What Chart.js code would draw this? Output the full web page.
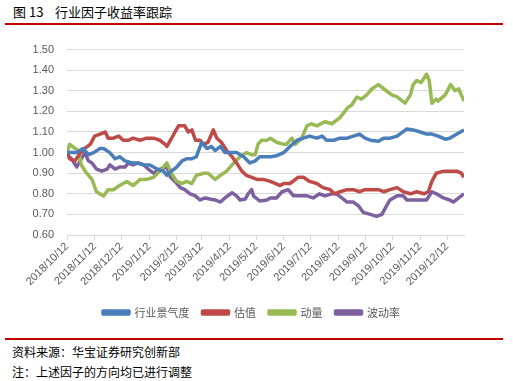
<!DOCTYPE html>
<html><head><meta charset="utf-8">
<script src="https://cdn.jsdelivr.net/npm/chart.js@4"></script>
<style>
body{margin:0;width:513px;height:381px;background:#fff;position:relative;overflow:hidden;font-family:"Noto Sans CJK SC",sans-serif;}
#title{position:absolute;left:13px;top:4px;font-size:13px;line-height:16px;color:#000;white-space:pre;}
.rule{position:absolute;left:5px;width:498px;height:2px;background:#c00000;}
#wrap{position:absolute;left:0;top:30px;}
.note{position:absolute;left:12px;font-size:12px;line-height:14px;color:#000;}
</style></head>
<body>
<div id="title">图 13    行业因子收益率跟踪</div>
<div class="rule" style="top:23px"></div>
<div id="wrap"><canvas id="c" width="513" height="298"></canvas></div>
<div class="rule" style="top:338px"></div>
<div class="note" style="top:345px">资料来源：华宝证券研究创新部</div>
<div class="note" style="top:365px">注：上述因子的方向均已进行调整</div>
<script>
// x = days since 2018/10/12
const tickDays = [0,31,61,92,123,151,182,212,243,273,304,335,365,396,426];
const tickLabels = ['2018/10/12','2018/11/12','2018/12/12','2019/1/12','2019/2/12','2019/3/12','2019/4/12','2019/5/12','2019/6/12','2019/7/12','2019/8/12','2019/9/12','2019/10/12','2019/11/12','2019/12/12'];
const lastDay = 445;

const industryDays = [0,5,11,18,24,30,37,41,48,54,59,65,73,78,86,93,101,108,112,117,123,129,134,140,145,151,157,162,166,172,177,183,190,198,205,211,216,220,228,235,243,250,258,265,272,280,286,291,299,306,314,321,328,334,340,349,355,362,370,381,388,396,403,409,416,424,429,437,445];
const industryVals = [1.00,1.00,1.00,1.02,0.99,1.00,1.02,1.02,1.00,0.97,0.98,0.96,0.95,0.95,0.94,0.94,0.92,0.91,0.89,0.91,0.93,0.96,0.97,0.97,0.98,1.05,1.02,1.03,1.01,1.03,1.00,1.00,1.00,0.98,0.95,0.96,0.98,0.98,0.98,0.985,1.00,1.03,1.06,1.07,1.08,1.07,1.08,1.06,1.06,1.07,1.07,1.08,1.09,1.07,1.06,1.055,1.07,1.07,1.08,1.115,1.11,1.10,1.09,1.09,1.08,1.065,1.07,1.09,1.11];

const valuationDays = [0,3,9,15,20,26,31,37,43,46,52,58,63,69,74,82,89,97,104,110,112,116,121,125,132,136,140,144,149,153,158,164,168,173,179,185,190,196,201,207,213,220,228,239,243,250,259,265,272,280,287,295,300,306,314,321,328,334,342,349,355,362,370,377,385,392,400,405,409,414,422,429,437,442,445];
const valuationVals = [1.00,0.97,0.96,1.00,1.02,1.04,1.08,1.09,1.10,1.07,1.07,1.08,1.06,1.06,1.07,1.06,1.07,1.07,1.06,1.04,1.03,1.06,1.10,1.13,1.13,1.10,1.11,1.06,1.06,1.04,1.05,1.11,1.07,1.05,1.01,0.98,0.95,0.91,0.89,0.88,0.87,0.87,0.86,0.84,0.85,0.85,0.88,0.88,0.86,0.85,0.83,0.82,0.80,0.81,0.82,0.82,0.81,0.82,0.82,0.82,0.81,0.82,0.83,0.81,0.80,0.81,0.80,0.81,0.86,0.90,0.91,0.91,0.91,0.90,0.88];

const momentumDays = [0,3,9,13,16,22,28,33,41,46,52,59,67,74,82,89,97,104,112,117,123,129,134,140,145,153,158,166,172,179,187,194,201,207,211,214,218,224,228,235,243,246,252,256,263,269,274,280,289,297,306,315,319,325,330,336,342,349,355,364,370,379,385,388,392,397,403,406,409,414,416,424,430,435,439,445];
const momentumVals = [1.00,1.04,1.02,1.01,0.94,0.90,0.87,0.81,0.79,0.82,0.82,0.84,0.86,0.84,0.87,0.87,0.88,0.91,0.95,0.90,0.86,0.85,0.86,0.85,0.89,0.90,0.90,0.87,0.89,0.91,0.95,0.98,1.00,0.99,0.99,1.04,1.06,1.06,1.07,1.05,1.04,1.04,1.07,1.04,1.07,1.13,1.14,1.13,1.15,1.14,1.17,1.22,1.23,1.27,1.26,1.28,1.31,1.33,1.31,1.28,1.27,1.24,1.28,1.33,1.35,1.34,1.38,1.35,1.24,1.26,1.25,1.28,1.33,1.30,1.31,1.25];

const volatilityDays = [0,5,11,16,20,24,28,33,39,45,48,54,59,65,69,74,80,86,91,97,104,112,116,121,127,132,138,144,149,155,160,166,172,177,185,190,194,200,203,207,209,216,224,228,235,241,248,254,261,269,276,283,289,297,302,308,314,321,327,332,340,347,353,358,362,370,377,381,388,396,403,409,414,422,429,433,439,445];
const volatilityVals = [0.99,0.97,0.93,0.97,1.00,0.96,0.95,0.92,0.91,0.92,0.94,0.92,0.93,0.93,0.95,0.94,0.95,0.94,0.92,0.90,0.92,0.93,0.88,0.86,0.83,0.82,0.80,0.79,0.77,0.78,0.775,0.77,0.76,0.78,0.805,0.79,0.77,0.775,0.80,0.82,0.79,0.765,0.77,0.78,0.78,0.81,0.82,0.79,0.79,0.79,0.78,0.80,0.79,0.80,0.80,0.78,0.76,0.76,0.74,0.71,0.70,0.69,0.70,0.74,0.77,0.79,0.79,0.77,0.77,0.77,0.77,0.81,0.80,0.78,0.77,0.76,0.78,0.80];

function pts(d, v){ return d.map((x,i)=>({x:x, y:v[i]})); }
function ds(label, d, v, color){
  return {label, data: pts(d,v), borderColor: color, backgroundColor: color, borderWidth: 3.5, pointRadius: 0, tension: 0, borderJoinStyle: 'round'};
}
const axisFont = {family: '"Liberation Sans", Arial, sans-serif', size: 11};
new Chart(document.getElementById('c'), {
  type: 'line',
  data: { datasets: [
    ds('行业景气度', industryDays, industryVals, '#4a7ebb'),
    ds('估值', valuationDays, valuationVals, '#be4b48'),
    ds('动量', momentumDays, momentumVals, '#98b954'),
    ds('波动率', volatilityDays, volatilityVals, '#7d60a0')
  ]},
  options: {
    responsive: false, animation: false,
    layout: {padding: {top: 18, left: 0, right: 10, bottom: 0}},
    plugins: {
      tooltip: {enabled: false},
      legend: {position: 'bottom', labels: {boxWidth: 26, boxHeight: 3, padding: 13, color: '#595959', font: {family: '"Noto Sans CJK SC", sans-serif', size: 11}}}
    },
    scales: {
      x: {type: 'linear', min: 0, max: lastDay,
        afterBuildTicks: s => { s.ticks = tickDays.map(v => ({value: v})); },
        afterFit: s => { s.height = 59; },
        ticks: {autoSkip: false, maxRotation: 45, minRotation: 45, color: '#595959', font: axisFont, padding: 0,
          callback: v => { const i = tickDays.indexOf(v); return i >= 0 ? tickLabels[i] : ''; }},
        grid: {drawOnChartArea: false, drawTicks: true, tickLength: 5, color: '#d9d9d9'},
        border: {color: '#d9d9d9'}
      },
      y: {min: 0.6, max: 1.5,
        afterFit: s => { s.width = 67; },
        ticks: {stepSize: 0.1, color: '#595959', font: axisFont, padding: 13, callback: v => v.toFixed(2)},
        grid: {color: '#d9d9d9', drawTicks: false},
        border: {display: false}
      },
      yRight: {position: 'right', display: true,
        afterFit: s => { s.width = 39; },
        ticks: {display: false},
        grid: {display: false, drawTicks: false},
        border: {display: false}
      }
    }
  }
});
</script>
</body></html>
